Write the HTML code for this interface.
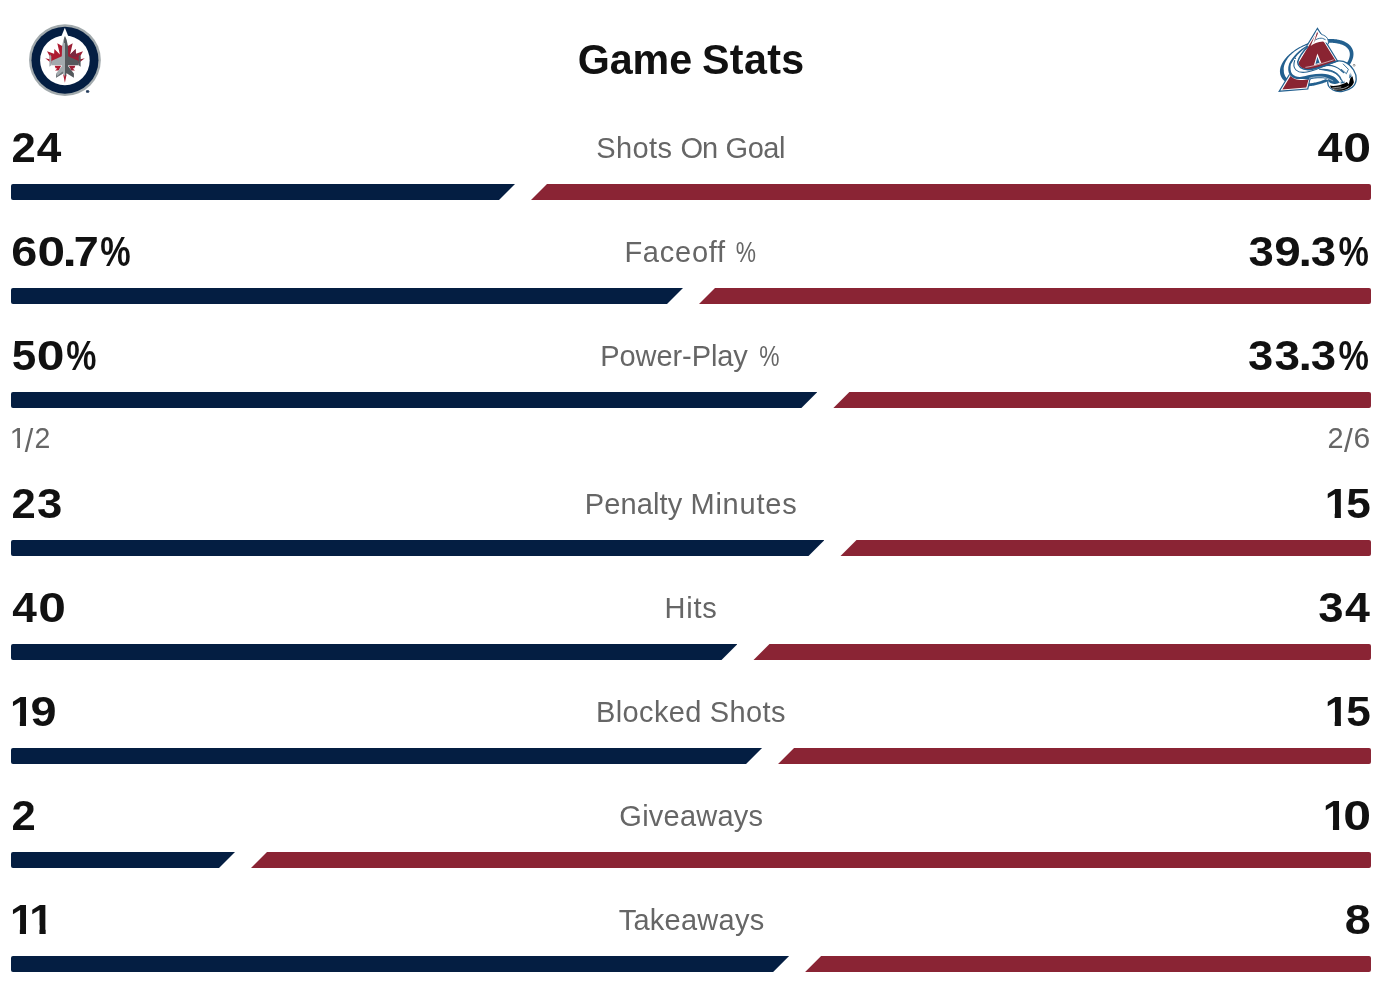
<!DOCTYPE html>
<html lang="en"><head><meta charset="utf-8"><title>Game Stats</title>
<style>
html,body{margin:0;padding:0;background:#fff;}
body{width:1393px;height:993px;position:relative;overflow:hidden;font-family:"Liberation Sans",sans-serif;}
.x{display:inline-block;width:0;transform-origin:0 0;}
.t{font-weight:700;color:#111111;}
.val{font-weight:700;color:#111111;}
.lab{color:#666666;}
.sub{color:#666666;}
.grp{position:absolute;left:0;white-space:nowrap;line-height:1;word-spacing:-0.278em;}
.one{clip-path:polygon(0 0,.372em 0,.372em 100%,.23em 100%,.23em 62%,0 62%);}
.oner{clip-path:polygon(0 0,.343em 0,.343em 100%,.2497em 100%,.2497em 62%,0 62%);}
.bar{position:absolute;height:16px;}
.n{background:#041E42;border-radius:2px 0 0 2px;clip-path:polygon(0 0,100% 0,calc(100% - 16px) 100%,0 100%);}
.r{background:#8A2434;border-radius:0 2px 2px 0;clip-path:polygon(16px 0,100% 0,100% 100%,0 100%);}
</style></head><body>
<svg id="jets" style="position:absolute;left:20px;top:15px" width="90" height="90" viewBox="20 15 90 90">
<circle cx="64.95" cy="60.05" r="35.9" fill="#A2AAAD"/>
<circle cx="64.95" cy="60.15" r="33.5" fill="#041E42"/>
<circle cx="64.9" cy="60.4" r="24.8" fill="#fff"/>
<polygon points="64.85,27.8 68.3,36.3 61.4,36.3" fill="#fff"/>
<!-- maple leaf left -->
<g fill="#AE1A30">
<polygon points="65,44 62.1,46 57.3,43.2 59.9,54.4 54.4,49.1 54.1,53.7 47,51.3 49.6,55.9 49.6,59.2 45.2,58.3 49.7,61.8 52,64 65,64"/>
<polygon points="54.7,65.8 61.2,65.8 58.6,70.5 55,70.4 57.3,68.6 55.6,68.2"/>
<polygon points="63.2,74.5 66.6,74.5 64.9,82.8"/>
</g>
<!-- maple leaf right (darker facets) -->
<g fill="#9B1F35">
<polygon points="65,44 67.9,46 72.7,43.2 70.1,54.4 75.6,49.1 75.9,53.7 83,51.3 80.4,55.9 80.4,59.2 84.8,58.3 80.3,61.8 78,64 65,64"/>
<polygon points="75.3,65.8 68.8,65.8 71.4,70.5 75,70.4 72.7,68.6 74.4,68.2"/>
</g>
<polygon points="70.1,54.4 75.6,49.1 75.9,53.7 78.5,56.5 72,57" fill="#7A2A40"/>
<!-- jet left half (light) -->
<g fill="#A3AAAE">
<polygon points="65,35.9 63.3,40 62.1,46 61.8,56.3 51.3,61.1 51.3,65.3 61.8,65.3 61.8,66.2 56.1,73.6 56.1,77.8 63.4,73.2 65,77"/>
<polygon points="50.1,54.3 49.4,57 49.4,66.7 51.3,65.3 51.3,56.5"/>
</g>
<!-- jet right half (dark) -->
<g fill="#54595D">
<polygon points="65,35.9 66.7,40 67.9,46 68.2,56.3 78.7,61.1 78.7,65.3 68.2,65.3 68.2,66.2 73.9,73.6 73.9,77.8 66.6,73.2 65,77"/>
<polygon points="79.9,54.3 80.6,57 80.6,66.7 78.7,65.3 78.7,56.5"/>
</g>
<polygon points="65,35.9 64.2,38 64,43 65,43" fill="#54595D"/>
<polygon points="56.1,73.6 56.1,77.8 63.4,73.2 62.5,71.5 57.2,76" fill="#6D7478"/>
<!-- registered mark -->
<text x="86.0" y="93.0" font-family="Liberation Sans, sans-serif" font-size="4.4" font-weight="700" fill="#041E42" stroke="#041E42" stroke-width="0.3">®</text>
</svg>
<svg id="avs" style="position:absolute;left:1270px;top:15px" width="100" height="90" viewBox="1270 15 100 90">
<g fill="none" stroke-linecap="round" stroke-linejoin="round">
<path d="M1352.78,49.95 L1352.95,50.48 L1353.10,51.02 L1353.23,51.57 L1353.33,52.12 L1353.40,52.68 L1353.45,53.25 L1353.47,53.83 L1353.47,54.41 L1353.45,54.99 L1353.39,55.59 L1353.32,56.18 L1353.22,56.78 L1353.09,57.39 L1352.94,58.00 L1352.76,58.61 L1352.56,59.23 L1352.33,59.85 L1352.08,60.47 L1351.81,61.09 L1351.51,61.71 L1351.19,62.33 L1350.84,62.96 L1350.47,63.58 L1350.08,64.20 L1349.66,64.83 L1349.22,65.45 L1348.76,66.06 L1348.28,66.68 L1347.78,67.29 L1347.25,67.90 L1346.70,68.51 L1346.14,69.11 L1345.55,69.71 L1344.94,70.31 L1344.32,70.90 L1343.67,71.48 L1343.01,72.06 L1342.32,72.63 L1341.63,73.19 L1340.91,73.75 L1340.18,74.30 L1339.43,74.84 L1338.66,75.37 L1337.88,75.89 L1337.09,76.41 L1336.28,76.92 L1335.46,77.41 L1334.62,77.90 L1333.78,78.37 L1332.92,78.84 L1332.05,79.29 L1331.17,79.74 L1330.28,80.17 L1329.38,80.59 L1328.47,80.99 L1327.56,81.39 L1326.63,81.77 L1325.70,82.14 L1324.77,82.49 L1323.82,82.83 L1322.88,83.16 L1321.93,83.48 L1320.97,83.78 L1320.01,84.06 L1319.05,84.33 L1318.09,84.59 L1317.13,84.83 L1316.17,85.05 L1315.20,85.27 L1314.24,85.46 L1313.28,85.64 L1312.33,85.80 L1311.37,85.95 L1310.42,86.08 L1309.47,86.20 L1308.53,86.30 L1307.60,86.38 L1306.67,86.45 L1305.74,86.50 L1304.83,86.54 L1303.92,86.56 L1303.02,86.56 L1302.14,86.55 L1301.26,86.52 L1300.39,86.47 L1299.53,86.41 L1298.68,86.33 L1297.85,86.23 L1297.03,86.12 L1296.22,85.99 L1295.43,85.85 L1294.65,85.69 L1293.89,85.52 L1293.14,85.33 L1292.41,85.12 L1291.70,84.90 L1291.00,84.66 L1290.32,84.41 L1289.66,84.15 L1289.02,83.86 L1288.39,83.57 L1287.79,83.26 L1287.20,82.94 L1286.64,82.60 L1286.09,82.25 L1285.57,81.88 L1285.07,81.50 L1284.59,81.11 L1284.13,80.71 L1283.69,80.30 L1283.28,79.87 L1282.89,79.43 L1282.52,78.98 L1282.18,78.52 L1281.86,78.04 L1281.56,77.56 L1281.29,77.07 L1281.04,76.56 L1280.82,76.05 L1280.62,75.53 L1280.45,75.00 L1280.30,74.46 L1280.17,73.91 L1280.07,73.36 L1280.00,72.80 L1279.95,72.23 L1279.93,71.65 L1279.93,71.07 L1279.95,70.49 L1280.01,69.89 L1280.08,69.30 L1280.18,68.70 L1280.31,68.09 L1280.46,67.48 L1280.64,66.87 L1280.84,66.25 L1281.07,65.63 L1281.32,65.01 L1281.59,64.39 L1281.89,63.77 L1282.21,63.15 L1282.56,62.52 L1282.93,61.90 L1283.32,61.28 L1283.74,60.65 L1284.18,60.03 L1284.64,59.42 L1285.12,58.80 L1285.62,58.19 L1286.15,57.58 L1286.70,56.97 L1287.26,56.37 L1287.85,55.77 L1288.46,55.17 L1289.08,54.58 L1289.73,54.00 L1290.39,53.42 L1291.08,52.85 L1291.77,52.29 L1292.49,51.73 L1293.22,51.18 L1293.97,50.64 L1294.74,50.11 L1295.52,49.59 L1296.31,49.07 L1297.12,48.56 L1297.94,48.07 L1298.78,47.58 L1299.62,47.11 L1300.48,46.64 L1301.35,46.19 L1302.23,45.74 L1303.12,45.31 L1304.02,44.89 L1304.93,44.49 L1305.84,44.09 L1306.77,43.71 L1307.70,43.34 L1308.63,42.99 L1309.58,42.65 L1310.52,42.32 L1311.47,42.00 L1312.43,41.70 L1313.39,41.42 L1314.35,41.15 L1315.31,40.89 L1316.27,40.65 L1317.23,40.43 L1318.20,40.21 L1319.16,40.02 L1320.12,39.84 L1321.07,39.68 L1322.03,39.53 L1322.98,39.40 L1323.93,39.28 L1324.87,39.18 L1325.80,39.10 L1326.73,39.03 L1327.66,38.98 L1328.57,38.94 L1329.48,38.92 L1330.38,38.92 L1331.26,38.93 L1332.14,38.96 L1333.01,39.01 L1333.87,39.07 L1334.72,39.15 L1335.55,39.25 L1336.37,39.36 L1337.18,39.49 L1337.97,39.63 L1338.75,39.79 L1339.51,39.96 L1340.26,40.15 L1340.99,40.36 L1341.70,40.58 L1342.40,40.82 L1343.08,41.07 L1343.74,41.33 L1344.38,41.62 L1345.01,41.91 L1345.61,42.22 L1346.20,42.54 L1346.76,42.88 L1347.31,43.23 L1347.83,43.60 L1348.33,43.98 L1348.81,44.37 L1349.27,44.77 L1349.71,45.18 L1350.12,45.61 L1350.51,46.05 L1350.88,46.50 L1351.22,46.96 L1351.54,47.44 L1351.84,47.92 L1352.11,48.41 L1352.36,48.92 L1352.58,49.43 Z M1349.16,50.83 L1349.00,50.47 L1348.83,50.12 L1348.64,49.78 L1348.43,49.44 L1348.20,49.11 L1347.95,48.78 L1347.68,48.46 L1347.40,48.14 L1347.09,47.82 L1346.76,47.51 L1346.41,47.21 L1346.04,46.91 L1345.64,46.62 L1345.23,46.34 L1344.79,46.06 L1344.33,45.79 L1343.85,45.53 L1343.35,45.28 L1342.83,45.04 L1342.28,44.81 L1341.72,44.59 L1341.14,44.38 L1340.53,44.18 L1339.91,44.00 L1339.27,43.82 L1338.61,43.66 L1337.94,43.51 L1337.25,43.38 L1336.54,43.26 L1335.81,43.15 L1335.07,43.06 L1334.32,42.98 L1333.55,42.91 L1332.77,42.86 L1331.97,42.82 L1331.17,42.80 L1330.35,42.80 L1329.52,42.80 L1328.69,42.83 L1327.84,42.87 L1326.98,42.92 L1326.12,42.99 L1325.25,43.07 L1324.37,43.17 L1323.49,43.28 L1322.60,43.41 L1321.71,43.55 L1320.81,43.71 L1319.91,43.88 L1319.01,44.07 L1318.10,44.27 L1317.20,44.48 L1316.29,44.71 L1315.39,44.95 L1314.49,45.21 L1313.58,45.48 L1312.68,45.76 L1311.79,46.06 L1310.90,46.37 L1310.01,46.69 L1308.11,44.41 L1307.19,44.77 L1306.28,45.13 L1305.38,45.52 L1304.48,45.91 L1303.60,46.32 L1302.72,46.73 L1301.85,47.16 L1300.99,47.60 L1300.15,48.06 L1299.31,48.52 L1298.49,48.99 L1297.68,49.47 L1296.88,49.96 L1296.10,50.46 L1295.35,51.00 L1294.62,51.56 L1293.91,52.12 L1293.22,52.69 L1292.55,53.27 L1291.89,53.85 L1291.25,54.43 L1290.63,55.02 L1290.04,55.62 L1289.46,56.22 L1288.90,56.82 L1288.39,57.45 L1287.92,58.09 L1287.47,58.74 L1287.04,59.38 L1286.64,60.02 L1286.27,60.66 L1285.91,61.29 L1285.59,61.92 L1285.28,62.55 L1285.01,63.17 L1284.76,63.78 L1284.53,64.39 L1284.33,64.99 L1284.17,65.58 L1284.03,66.16 L1283.92,66.73 L1283.83,67.29 L1283.77,67.83 L1283.73,68.36 L1283.71,68.87 L1283.72,69.37 L1283.75,69.84 L1283.80,70.30 L1283.85,70.74 L1283.84,71.17 L1283.85,71.58 L1283.87,71.98 L1283.91,72.37 L1283.97,72.75 L1284.05,73.13 L1284.14,73.49 L1284.25,73.85 L1284.38,74.20 L1284.52,74.54 L1284.66,74.89 L1284.79,75.24 L1284.94,75.59 L1285.12,75.94 L1285.31,76.29 L1285.52,76.64 L1285.76,76.99 L1286.02,77.33 L1286.30,77.67 L1286.60,78.01 L1286.93,78.35 L1287.28,78.68 L1287.66,78.99 L1288.07,79.30 L1288.50,79.60 L1288.95,79.89 L1289.43,80.18 L1289.93,80.45 L1290.44,80.72 L1290.98,80.98 L1291.55,81.24 L1292.13,81.48 L1292.73,81.71 L1293.36,81.93 L1294.00,82.13 L1294.66,82.33 L1295.34,82.51 L1296.04,82.68 L1296.76,82.84 L1297.49,82.98 L1298.24,83.11 L1299.01,83.22 L1299.79,83.32 L1300.58,83.40 L1301.39,83.47 L1302.21,83.53 L1303.04,83.56 L1303.89,83.58 L1304.74,83.59 L1305.61,83.58 L1306.48,83.55 L1307.36,83.51 L1308.25,83.45 L1309.15,83.37 L1310.05,83.28 L1310.96,83.17 L1311.88,83.04 L1312.79,82.90 L1313.71,82.74 L1314.64,82.57 L1315.56,82.38 L1316.49,82.17 L1317.41,81.95 L1318.34,81.71 L1319.26,81.46 L1320.18,81.19 L1321.10,80.90 L1322.01,80.60 L1322.92,80.29 L1323.83,79.96 L1324.73,79.62 L1325.62,79.26 L1326.50,78.89 L1327.38,78.51 L1328.25,78.11 L1329.11,77.70 L1329.96,77.28 L1330.79,76.84 L1331.62,76.40 L1332.43,75.94 L1333.24,75.47 L1334.02,74.99 L1334.80,74.51 L1335.56,74.01 L1336.30,73.50 L1337.03,72.99 L1337.75,72.47 L1338.44,71.94 L1339.12,71.40 L1339.78,70.86 L1340.42,70.31 L1341.05,69.76 L1341.65,69.20 L1342.23,68.64 L1342.80,68.07 L1343.34,67.50 L1343.87,66.93 L1344.37,66.36 L1344.85,65.79 L1345.31,65.22 L1345.74,64.65 L1346.16,64.07 L1346.55,63.51 L1346.92,62.94 L1347.26,62.38 L1347.59,61.82 L1347.89,61.26 L1348.17,60.71 L1348.42,60.17 L1348.65,59.63 L1348.86,59.10 L1349.05,58.58 L1349.22,58.07 L1349.36,57.57 L1349.49,57.07 L1349.59,56.59 L1349.67,56.11 L1349.74,55.65 L1349.78,55.20 L1349.81,54.75 L1349.82,54.32 L1349.81,53.90 L1349.78,53.48 L1349.74,53.08 L1349.68,52.69 L1349.61,52.30 L1349.52,51.92 L1349.41,51.55 L1349.29,51.19 Z" fill="#23608F" fill-rule="evenodd"/>
<!-- A : blue outline, white inline, burgundy -->
<polygon points="1317.45,27.3 1340.3,64.5 1310.4,79.6 1308.3,89.55 1278.1,92.0" fill="#23608F"/>
<polygon points="1317.45,29.6 1338.6,64 1309.3,79.6 1307.2,88.4 1280.4,90.6" fill="#fff"/>
<polygon points="1317.45,31.4 1337.4,63.6 1308.5,79.8 1306.3,87.5 1282.3,89.6" fill="#8A2432"/>
<!-- A counter -->
<polygon points="1317.4,53.4 1321.3,63 1313.9,65.3" fill="#fff"/>
<polygon points="1317.4,56.8 1319.6,62.7 1315.5,64" fill="#23608F"/>
<!-- swoosh body (white) -->
<path d="M1307.8,45.3 C1299,49.8 1292.7,56.6 1289.1,63.8 C1287.6,68 1288,72.5 1290,75.2 C1293,79.4 1300,81 1308,79.6 C1316,77.4 1322,76 1328,80.5 C1327,84 1329,87.8 1333,90 C1338,92.6 1347,91.8 1352.3,87.3 C1357.3,83 1357.3,76 1353.6,70 C1350,64.5 1344,60.3 1337.5,61 C1326,64.6 1316,69.4 1308,69.4 C1302,69.4 1298.6,66.2 1298.5,62 L1307.6,46.6 Z" fill="#fff"/>
<!-- snow cap -->
<path d="M1316.6,30.6 L1314.2,37 L1310.6,46.2 C1313,43.6 1318,41.6 1323,41.4 L1328.5,43.5 C1329,40 1327,36.5 1323.5,35.2 C1321.5,34.4 1320.5,33.8 1319.6,32 Z" fill="#fff"/>
<path d="M1319.3,31.6 C1320.4,33.9 1321.5,34.5 1323.6,35.2 C1327,36.5 1328.8,39.6 1328.5,43.8" stroke="#23608F" stroke-width="0.9"/>
<path d="M1315.6,39.8 C1318,38.3 1321,37.9 1322.6,38.4 C1323.6,38.8 1324.6,39.4 1325.2,39.6" stroke="#23608F" stroke-width="0.9"/>
<polygon points="1317.1,31.8 1317.9,33.6 1315.3,39.5 1313.4,44" fill="#8A2432"/>
<!-- swoosh outer outline (line 2) growing into the blue tongue -->
<path d="M1307.8,45.3 C1299,49.8 1292.7,56.6 1289.1,63.8 C1287.6,68 1288,72.5 1290,75.2 C1292.6,78.6 1297,79.4 1301,79 C1304,78.6 1306,79.4 1308.1,79.7 C1311,79 1314,78.4 1317.6,78.3 C1321,78.2 1324,78.4 1326.1,78.7 C1327.4,79 1328.1,79.4 1328.2,79.7 C1328.1,80.4 1328.2,80.8 1328.5,81.1 C1329.3,82.5 1330.2,83.1 1331,83.3 C1332.4,83.8 1334,84 1335.2,83.9 C1336.8,83.7 1338.6,83.2 1339.8,82.7 C1338.8,81.4 1338,80.3 1337,79.4 C1336,78.4 1334.8,77.4 1333.5,76.6 C1332,75.6 1330.2,74.9 1328.2,74.4 C1326,73.8 1323.6,73.6 1321.1,73.7 C1317.6,73.8 1314,74.2 1310.6,74.8 C1307.4,75.5 1303.6,76.6 1300,76.9 C1297,77 1294.2,76 1292.2,73.9 C1290.4,71.5 1290.2,67.5 1290.9,64.2 C1294.3,57.5 1300,51.4 1307.4,46.4 Z" fill="#23608F"/>
<path d="M1309.5,78.15 C1311.6,77.5 1313.8,77.1 1315.9,76.9 C1317.6,76.8 1319.4,76.8 1321.1,76.85 C1323,77 1324.8,77.4 1326.4,78 C1328.6,78.8 1330.8,79.8 1332.8,80.8" stroke="#dfe6ec" stroke-width="0.65"/>
<!-- inner detail line -->
<path d="M1294.7,60.5 C1293.4,64 1293.6,67.6 1296,70 C1298.5,72.4 1302.5,72.8 1307,72 C1310,71.4 1313,70.5 1315.9,69.5 C1319,68.3 1322,67.1 1324.7,66 C1328,64.6 1331.6,63.2 1335.2,62.1" stroke="#23608F" stroke-width="1.05"/>
<circle cx="1295.4" cy="58.4" r="0.55" fill="#23608F"/>
<!-- line 3 (inner outline by burgundy) -->
<path d="M1307.6,46.8 C1303,51.5 1299,57.5 1297.7,62 C1297.8,66.4 1301.5,69.6 1308,69.7 C1316,69.4 1326,64.8 1337.5,61" stroke="#23608F" stroke-width="1.55"/>
<path d="M1305.8,67.3 C1312,66.6 1322,63.6 1333.3,59.9" stroke="#fff" stroke-width="0.6" stroke-dasharray="2.4 0.7"/>
<!-- right part: line B and line A -->
<path d="M1322.9,66.3 C1324.6,65.7 1326.4,65.3 1328.2,65.3 C1330.6,65.3 1333,65.8 1335.2,66.7 C1337.2,67.5 1339,68.6 1340.5,69.9 C1341.7,70.8 1342.8,71.7 1343.7,72.7" stroke="#23608F" stroke-width="1.2"/>
<path d="M1319.7,69.3 C1322.6,69.2 1325.6,69.2 1328.2,69.7 C1330.8,70.2 1333.2,71 1335.2,72.3 C1336.6,73.1 1337.8,74.1 1338.8,75.2 C1339.5,76 1340.1,76.8 1340.5,77.6 L1341.6,80.6 L1339.6,77.6 C1339,76.6 1338.2,75.6 1337.4,74.9 C1335.4,73.2 1333,72 1330.4,71.3 C1327,70.5 1323,70 1319.7,69.3 Z" fill="#23608F" stroke="#23608F" stroke-width="0.9"/>
<!-- ice chunk -->
<path d="M1343.2,64 L1348.4,69.3 L1346.4,73.7 L1341.4,69.4" stroke="#23608F" stroke-width="0.9"/>
<!-- curl outline -->
<path d="M1337.5,61 C1344,60.3 1350,64.5 1353.6,70 C1357.3,76 1357.3,83 1352.3,87.3 C1347,91.8 1338,92.6 1333,90 C1329,87.8 1327,84 1328,80.5" stroke="#23608F" stroke-width="1.3"/>
<!-- puck -->
<path d="M1329.9,85.6 C1331.5,86.3 1335,86.3 1339.2,85.3 C1342,84.6 1345,83.4 1346.8,82.1 L1348.8,84.3 L1349.65,80.6 L1350.5,77.7 L1352.5,76.3 L1353.9,82.2 C1353.5,83.6 1352.9,84.6 1352.1,85.4 C1350.8,86.8 1349,88 1347.2,89 C1345.4,89.9 1343.4,90.4 1341.2,90.7 C1339,90.9 1337,90.7 1335.1,90.2 C1333.6,89.7 1332.2,88.8 1331.1,87.8 Z" fill="#000"/>
<path d="M1332.5,88 C1335,87.6 1338,87.3 1340.8,87 M1333.3,89.2 C1337,89.3 1340.5,89 1343.2,88.5 C1345.2,87.9 1347,87.1 1348.3,86.2" stroke="#fff" stroke-width="0.6"/>
<!-- icicles -->
<path d="M1340.6,83.6 L1341,80 L1341.9,82.8 L1342.6,79.6 L1343.4,82.6 L1344.2,80.4 L1344.6,83" fill="#23608F"/>
<path d="M1349.2,78.4 L1349.6,73.6 L1350.3,76.6 L1350.8,72.4 L1351.6,76.4" fill="#23608F"/>
</g>
<circle cx="1354.1" cy="65.3" r="1.25" fill="#8c8c8c"/>
<text x="1354.1" y="66.05" text-anchor="middle" font-family="Liberation Sans, sans-serif" font-size="2.1" font-weight="700" fill="#fff">R</text>
</svg>
<div class="bar n" style="left:11px;top:184px;width:504.0px"></div>
<div class="bar r" style="left:531.0px;top:184px;width:840.0px"></div>
<div class="bar n" style="left:11px;top:288px;width:672.0px"></div>
<div class="bar r" style="left:699.0px;top:288px;width:672.0px"></div>
<div class="bar n" style="left:11px;top:392px;width:806.4px"></div>
<div class="bar r" style="left:833.4px;top:392px;width:537.6px"></div>
<div class="bar n" style="left:11px;top:540px;width:813.47px"></div>
<div class="bar r" style="left:840.47px;top:540px;width:530.53px"></div>
<div class="bar n" style="left:11px;top:644px;width:726.49px"></div>
<div class="bar r" style="left:753.49px;top:644px;width:617.51px"></div>
<div class="bar n" style="left:11px;top:748px;width:751.06px"></div>
<div class="bar r" style="left:778.06px;top:748px;width:592.94px"></div>
<div class="bar n" style="left:11px;top:852px;width:224.0px"></div>
<div class="bar r" style="left:251.0px;top:852px;width:1120.0px"></div>
<div class="bar n" style="left:11px;top:956px;width:778.11px"></div>
<div class="bar r" style="left:805.11px;top:956px;width:565.89px"></div>
<div id="g_title" class="t grp" style="top:39px;font-size:42.3px"><span id="title_0" class="x" style="letter-spacing:-0.068px;transform:translateX(577.70px) scaleX(0.9750)">Game</span> <span id="title_1" class="x" style="letter-spacing:0.397px;transform:translateX(701.90px) scaleX(0.9750)">Stats</span></div>
<div id="g_lab0" class="lab grp" style="top:133px;font-size:29.6px"><span id="lab0_0" class="x" style="letter-spacing:0.370px;transform:translateX(596.35px) scaleX(0.9800)">Shots</span> <span id="lab0_1" class="x" style="letter-spacing:-1.122px;transform:translateX(680.45px) scaleX(0.9800)">On</span> <span id="lab0_2" class="x" style="letter-spacing:-0.391px;transform:translateX(725.45px) scaleX(0.9800)">Goal</span></div>
<div id="g_lv0" class="val grp" style="top:127px;font-size:42.2px"><span id="lv0_0" class="x" style="transform:translateX(11.55px) scaleX(1.0330)">2</span><span id="lv0_1" class="x" style="transform:translateX(36.65px) scaleX(1.0469)">4</span></div>
<div id="g_rv0" class="val grp" style="top:127px;font-size:42.2px"><span id="rv0_0" class="x" style="transform:translateX(1317.42px) scaleX(1.0622)">4</span><span id="rv0_1" class="x" style="transform:translateX(1343.35px) scaleX(1.1854)">0</span></div>
<div id="g_lab1" class="lab grp" style="top:237px;font-size:29.6px"><span id="lab1_0" class="x" style="letter-spacing:0.774px;transform:translateX(624.40px) scaleX(0.9800)">Faceoff</span> <span id="lab1_1" class="x" style="transform:translateX(735.68px) scaleX(0.7695)">%</span></div>
<div id="g_lv1" class="val grp" style="top:231px;font-size:42.2px"><span id="lv1_0" class="x" style="transform:translateX(11.34px) scaleX(1.1089)">6</span><span id="lv1_1" class="x" style="transform:translateX(37.42px) scaleX(1.1744)">0</span><span id="lv1_2" class="x" style="transform:translateX(62.46px) scaleX(1.2202)">.</span><span id="lv1_3" class="x" style="transform:translateX(73.80px) scaleX(1.0653)">7</span><span id="lv1_4" class="x" style="transform:translateX(100.19px) scaleX(0.8107)">%</span></div>
<div id="g_rv1" class="val grp" style="top:231px;font-size:42.2px"><span id="rv1_0" class="x" style="transform:translateX(1248.52px) scaleX(1.0767)">3</span><span id="rv1_1" class="x" style="transform:translateX(1274.24px) scaleX(1.1298)">9</span><span id="rv1_2" class="x" style="transform:translateX(1298.56px) scaleX(1.1509)">.</span><span id="rv1_3" class="x" style="transform:translateX(1310.75px) scaleX(1.0767)">3</span><span id="rv1_4" class="x" style="transform:translateX(1338.60px) scaleX(0.8096)">%</span></div>
<div id="g_lab2" class="lab grp" style="top:341px;font-size:29.6px"><span id="lab2_0" class="x" style="letter-spacing:-0.085px;transform:translateX(600.30px) scaleX(0.9800)">Power-Play</span> <span id="lab2_1" class="x" style="transform:translateX(759.30px) scaleX(0.7695)">%</span></div>
<div id="g_lv2" class="val grp" style="top:335px;font-size:42.2px"><span id="lv2_0" class="x" style="transform:translateX(11.77px) scaleX(1.0425)">5</span><span id="lv2_1" class="x" style="transform:translateX(36.76px) scaleX(1.1818)">0</span><span id="lv2_2" class="x" style="transform:translateX(66.37px) scaleX(0.8045)">%</span></div>
<div id="g_rv2" class="val grp" style="top:335px;font-size:42.2px"><span id="rv2_0" class="x" style="transform:translateX(1248.03px) scaleX(1.0734)">3</span><span id="rv2_1" class="x" style="transform:translateX(1274.55px) scaleX(1.0853)">3</span><span id="rv2_2" class="x" style="transform:translateX(1298.56px) scaleX(1.1509)">.</span><span id="rv2_3" class="x" style="transform:translateX(1310.75px) scaleX(1.0767)">3</span><span id="rv2_4" class="x" style="transform:translateX(1338.60px) scaleX(0.8096)">%</span></div>
<div id="g_lab3" class="lab grp" style="top:489px;font-size:29.6px"><span id="lab3_0" class="x" style="letter-spacing:0.119px;transform:translateX(584.80px) scaleX(0.9800)">Penalty</span> <span id="lab3_1" class="x" style="letter-spacing:0.799px;transform:translateX(690.45px) scaleX(0.9800)">Minutes</span></div>
<div id="g_lv3" class="val grp" style="top:483px;font-size:42.2px"><span id="lv3_0" class="x" style="transform:translateX(11.55px) scaleX(1.0330)">2</span><span id="lv3_1" class="x" style="transform:translateX(36.96px) scaleX(1.0781)">3</span></div>
<div id="g_rv3" class="val grp" style="top:483px;font-size:42.2px"><span id="rv3_0" class="x one" style="transform:translateX(1324.64px) scaleX(1.0352)">1</span><span id="rv3_1" class="x" style="transform:translateX(1346.17px) scaleX(1.0448)">5</span></div>
<div id="g_lab4" class="lab grp" style="top:593px;font-size:29.6px"><span id="lab4" class="x" style="letter-spacing:0.850px;transform:translateX(664.40px) scaleX(0.9800)">Hits</span></div>
<div id="g_lv4" class="val grp" style="top:587px;font-size:42.2px"><span id="lv4_0" class="x" style="transform:translateX(12.19px) scaleX(1.0491)">4</span><span id="lv4_1" class="x" style="transform:translateX(38.16px) scaleX(1.1776)">0</span></div>
<div id="g_rv4" class="val grp" style="top:587px;font-size:42.2px"><span id="rv4_0" class="x" style="transform:translateX(1318.26px) scaleX(1.0781)">3</span><span id="rv4_1" class="x" style="transform:translateX(1345.03px) scaleX(1.0620)">4</span></div>
<div id="g_lab5" class="lab grp" style="top:697px;font-size:29.6px"><span id="lab5_0" class="x" style="letter-spacing:0.400px;transform:translateX(595.90px) scaleX(0.9800)">Blocked</span> <span id="lab5_1" class="x" style="letter-spacing:0.370px;transform:translateX(709.85px) scaleX(0.9800)">Shots</span></div>
<div id="g_lv5" class="val grp" style="top:691px;font-size:42.2px"><span id="lv5_0" class="x one" style="transform:translateX(9.92px) scaleX(1.0238)">1</span><span id="lv5_1" class="x" style="transform:translateX(30.61px) scaleX(1.1104)">9</span></div>
<div id="g_rv5" class="val grp" style="top:691px;font-size:42.2px"><span id="rv5_0" class="x one" style="transform:translateX(1324.64px) scaleX(1.0352)">1</span><span id="rv5_1" class="x" style="transform:translateX(1346.17px) scaleX(1.0448)">5</span></div>
<div id="g_lab6" class="lab grp" style="top:801px;font-size:29.6px"><span id="lab6" class="x" style="letter-spacing:0.242px;transform:translateX(619.35px) scaleX(0.9800)">Giveaways</span></div>
<div id="g_lv6" class="val grp" style="top:795px;font-size:42.2px"><span id="lv6_0" class="x" style="transform:translateX(11.55px) scaleX(1.0330)">2</span></div>
<div id="g_rv6" class="val grp" style="top:795px;font-size:42.2px"><span id="rv6_0" class="x one" style="transform:translateX(1322.80px) scaleX(1.0460)">1</span><span id="rv6_1" class="x" style="transform:translateX(1343.35px) scaleX(1.1854)">0</span></div>
<div id="g_lab7" class="lab grp" style="top:905px;font-size:29.6px"><span id="lab7" class="x" style="letter-spacing:0.268px;transform:translateX(618.65px) scaleX(0.9800)">Takeaways</span></div>
<div id="g_lv7" class="val grp" style="top:899px;font-size:42.2px"><span id="lv7_0" class="x one" style="transform:translateX(9.92px) scaleX(1.0238)">1</span><span id="lv7_1" class="x one" style="transform:translateX(29.32px) scaleX(1.0421)">1</span></div>
<div id="g_rv7" class="val grp" style="top:899px;font-size:42.2px"><span id="rv7_0" class="x" style="transform:translateX(1344.76px) scaleX(1.1052)">8</span></div>
<div id="g_sub0" class="sub grp" style="top:423px;font-size:29.6px"><span id="sub0_0" class="x oner" style="transform:translateX(9.45px) scaleX(1.0402)">1</span><span id="sub0_1" class="x" style="transform:translate(24.79px,0.47px) scale(1.0322,1.1357)">/</span><span id="sub0_2" class="x" style="transform:translateX(34.50px) scaleX(0.9621)">2</span></div>
<div id="g_sub1" class="sub grp" style="top:423px;font-size:29.6px"><span id="sub1_0" class="x" style="transform:translateX(1327.42px) scaleX(0.9758)">2</span><span id="sub1_1" class="x" style="transform:translate(1344.01px,0.47px) scale(1.0666,1.1357)">/</span><span id="sub1_2" class="x" style="transform:translateX(1353.59px) scaleX(1.0147)">6</span></div>
</body></html>
